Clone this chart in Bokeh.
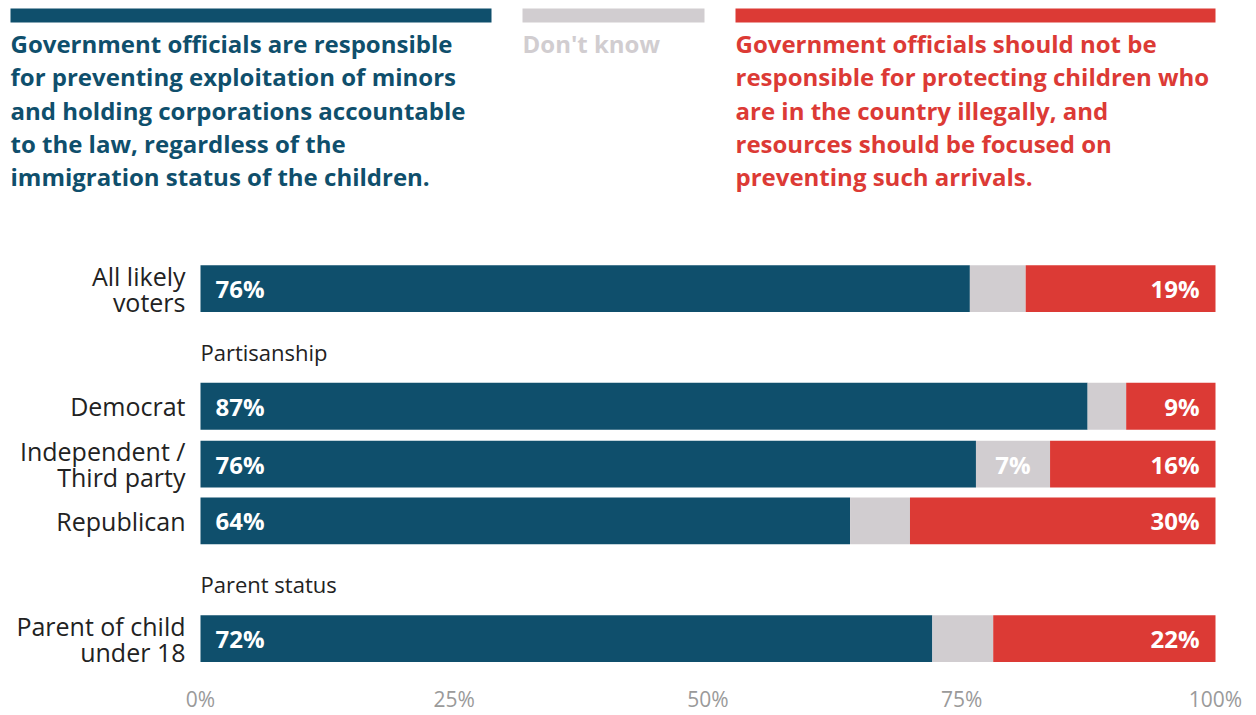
from bokeh.plotting import figure
from bokeh.models import Range1d, FixedTicker, PrintfTickFormatter
from bokeh.core.properties import value
from bokeh.embed import file_html
from bokeh.resources import INLINE

# ---------------- data ----------------
categories = ["All likely\nvoters", "Democrat", "Independent /\nThird party", "Republican", "Parent of child\nunder 18"]
responsible = [75.8, 87.4, 76.4, 64.0, 72.1]
dont_know = [5.5, 3.8, 7.3, 5.9, 6.0]
not_responsible = [18.7, 8.8, 16.3, 30.1, 21.9]
group_headers = ["Partisanship", "Parent status"]
x_ticks = [0, 25, 50, 75, 100]
legend_blue = ["Government officials are responsible",
               "for preventing exploitation of minors",
               "and holding corporations accountable",
               "to the law, regardless of the",
               "immigration status of the children."]
legend_gray = ["Don't know"]
legend_red = ["Government officials should not be",
              "responsible for protecting children who",
              "are in the country illegally, and",
              "resources should be focused on",
              "preventing such arrivals."]

# ---------------- layout (pixels) ----------------
W, H = 1256, 715
X0, X100 = 200, 1215
PXP = (X100 - X0) / 100.0
def px_x(px):
    return (px - X0) / PXP
row_y = [289, 407, 465, 522, 640]
header_y = [353, 585]
bar_h = 47
FRAME_H = 671

BLUE = "#0f4f6c"
GRAY = "#d1cdd0"
RED = "#dc3a35"
FONT = "Open Sans"

p = figure(width=W, height=H, output_backend="svg", toolbar_location=None,
           x_range=Range1d(px_x(0), px_x(W)), y_range=Range1d(FRAME_H, 0),
           min_border=0, outline_line_color=None)
p.grid.visible = False
p.yaxis.visible = False
p.background_fill_color = "white"

# bars
left1 = [0] * len(responsible)
right1 = responsible
right2 = [a + b for a, b in zip(responsible, dont_know)]
right3 = [a + b + c for a, b, c in zip(responsible, dont_know, not_responsible)]
p.hbar(y=row_y, left=left1, right=right1, height=bar_h, color=BLUE, line_color=None)
p.hbar(y=row_y, left=right1, right=right2, height=bar_h, color=GRAY, line_color=None)
p.hbar(y=row_y, left=right2, right=right3, height=bar_h, color=RED, line_color=None)

# value labels
VAL_SIZE = "24px"
p.text(x=[px_x(X0 + 15)] * len(row_y), y=row_y, text=[f"{round(v)}%" for v in responsible],
       text_color="white", text_font=value(FONT), text_font_style="bold",
       text_font_size=VAL_SIZE, text_baseline="middle", text_align="left")
dk_x, dk_y, dk_t = [], [], []
for a, b, y in zip(right1, dont_know, row_y):
    if round(b) >= 7:
        dk_x.append(a + b / 2)
        dk_y.append(y)
        dk_t.append(f"{round(b)}%")
p.text(x=dk_x, y=dk_y, text=dk_t, text_color="white", text_font=value(FONT),
       text_font_style="bold", text_font_size=VAL_SIZE, text_baseline="middle", text_align="center")
p.text(x=[r - 16 / PXP for r in right3], y=row_y, text=[f"{round(v)}%" for v in not_responsible],
       text_color="white", text_font=value(FONT), text_font_style="bold",
       text_font_size=VAL_SIZE, text_baseline="middle", text_align="right")

# category labels
p.text(x=[px_x(185)] * len(row_y), y=row_y, text=categories, text_color="#222222",
       text_font=value(FONT), text_font_size="25px", text_baseline="middle",
       text_align="right", text_line_height=0.77)
# group headers
p.text(x=[0] * len(header_y), y=header_y, text=group_headers, text_color="#222222",
       text_font=value(FONT), text_font_size="22px", text_baseline="middle", text_align="left")

# legend bars
p.hbar(y=[15, 15, 15], left=[px_x(10), px_x(522), px_x(735)],
       right=[px_x(491), px_x(704), px_x(1215)], height=14,
       color=[BLUE, GRAY, RED], line_color=None)
line_gap = 33.5
LEG_SIZE = "24px"
p.text(x=[px_x(10)] * len(legend_blue), y=[43 + i * line_gap for i in range(len(legend_blue))],
       text=legend_blue, text_color=BLUE, text_font=value(FONT), text_font_style="bold",
       text_font_size=LEG_SIZE, text_baseline="middle", text_align="left")
p.text(x=[px_x(522)], y=[43], text=legend_gray, text_color=GRAY, text_font=value(FONT),
       text_font_style="bold", text_font_size=LEG_SIZE, text_baseline="middle", text_align="left")
p.text(x=[px_x(735)] * len(legend_red), y=[43 + i * line_gap for i in range(len(legend_red))],
       text=legend_red, text_color=RED, text_font=value(FONT), text_font_style="bold",
       text_font_size=LEG_SIZE, text_baseline="middle", text_align="left")

# x axis
ax = p.xaxis[0]
ax.ticker = FixedTicker(ticks=x_ticks)
ax.formatter = PrintfTickFormatter(format="%d%%")
ax.axis_line_color = None
ax.major_tick_line_color = None
ax.minor_tick_line_color = None
ax.major_tick_out = 0
ax.major_tick_in = 0
ax.major_label_standoff = 15
ax.major_label_text_color = "#9a9a9a"
ax.major_label_text_font = FONT
ax.major_label_text_font_size = "21px"

open("out.html", "w").write(file_html(p, INLINE))
